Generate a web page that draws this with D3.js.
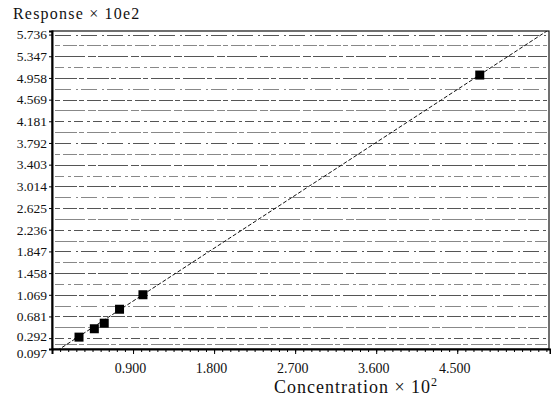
<!DOCTYPE html>
<html>
<head>
<meta charset="utf-8">
<script src="https://cdn.jsdelivr.net/npm/d3@7"></script>
<style>
  body { margin: 0; background: #fff; }
  svg { display: block; font-family: "Liberation Serif", "DejaVu Serif", serif; }
</style>
</head>
<body>
<svg width="551" height="405"></svg>
<script>
// calibration points
var concentration = [0.30, 0.47, 0.58, 0.75, 1.01, 4.75];
var response = [0.31, 0.46, 0.56, 0.81, 1.07, 5.01];
// fitted line: response = slope * concentration + intercept
var fitSlope = 1.054, fitIntercept = 0.007;

var xTicks = [0.9, 1.8, 2.7, 3.6, 4.5];
var yTicks = ["0.097", "0.292", "0.681", "1.069", "1.458", "1.847", "2.236", "2.625",
              "3.014", "3.403", "3.792", "4.181", "4.569", "4.958", "5.347", "5.736"];

var svg = d3.select("svg"),
    plotL = 52, plotR = 550, plotT = 31, plotB = 349,
    serif = "Liberation Serif, DejaVu Serif, serif";

var x = d3.scaleLinear().domain([0, 5.53]).range([plotL, plotR]);
var y = d3.scaleLinear().domain([0.097, 5.8]).range([plotB, plotT]);

svg.append("clipPath").attr("id", "plot")
  .append("rect").attr("x", plotL).attr("y", plotT)
    .attr("width", plotR - plotL).attr("height", plotB - plotT);

// gridlines at every labelled value and halfway between them
var yVals = yTicks.map(function(d) { return +d; });
var grid = [];
for (var i = 1; i < yVals.length; i++) {
  grid.push((yVals[i - 1] + yVals[i]) / 2);
  grid.push(yVals[i]);
}
var dashes = ["22,2,5,3", "9,4,3,3", "30,3,8,2", "5,3,14,2", "16,5,2,3"];
svg.append("g").selectAll("line")
  .data(grid)
  .enter().append("line")
    .attr("x1", plotL + 3).attr("x2", plotR - 3)
    .attr("y1", function(d) { return Math.round(y(d)) + 0.5; })
    .attr("y2", function(d) { return Math.round(y(d)) + 0.5; })
    .attr("stroke", function(d, i) { return i % 2 ? "#555" : "#888"; })
    .attr("stroke-width", 1)
    .attr("stroke-dasharray", function(d, i) { return dashes[i % dashes.length]; });

// frame
svg.append("rect")
  .attr("x", plotL).attr("y", plotT)
  .attr("width", plotR - plotL - 1).attr("height", plotB - plotT)
  .attr("fill", "none").attr("stroke", "#111").attr("stroke-width", 1.2);

// fit line
svg.append("line")
  .attr("clip-path", "url(#plot)")
  .attr("x1", x(0)).attr("y1", y(fitIntercept))
  .attr("x2", x(5.53)).attr("y2", y(fitSlope * 5.53 + fitIntercept))
  .attr("stroke", "#111").attr("stroke-width", 1)
  .attr("stroke-dasharray", "4,2");

// points
var pts = concentration.map(function(c, i) { return {c: c, r: response[i]}; });
svg.append("g").selectAll("rect")
  .data(pts)
  .enter().append("rect")
    .attr("x", function(d) { return x(d.c) - 4.5; })
    .attr("y", function(d) { return y(d.r) - 4.5; })
    .attr("width", 9).attr("height", 9)
    .attr("fill", "#000");

// x axis
var xAxis = d3.axisBottom(x)
    .tickValues(xTicks)
    .tickFormat(d3.format(".3f"))
    .tickSize(5).tickPadding(9);
var gx = svg.append("g").attr("transform", "translate(0," + plotB + ")").call(xAxis)
    .attr("font-family", serif);
gx.select(".domain").attr("stroke-width", 2).attr("stroke", "#000");
gx.selectAll("text").attr("font-size", 14).attr("dx", -3).attr("fill", "#111");

var minor = d3.range(0.09, 5.5, 0.09);
svg.append("g").attr("transform", "translate(0," + plotB + ")")
  .call(d3.axisBottom(x).tickValues(minor).tickSize(3).tickFormat(""))
  .select(".domain").remove();

// y axis
var yAxis = d3.axisLeft(y)
    .tickValues(yVals)
    .tickFormat(function(d, i) { return yTicks[i]; })
    .tickSize(3).tickPadding(2);
var gy = svg.append("g").attr("transform", "translate(" + plotL + ",0)").call(yAxis)
    .attr("font-family", serif);
gy.select(".domain").attr("stroke-width", 2).attr("stroke", "#000");
gy.selectAll("text").attr("font-size", 13.5).attr("fill", "#111");
// bottom label sits at the corner, nudge it clear of 0.292
gy.selectAll(".tick text").filter(function(d, i) { return i === 0; })
    .attr("y", 4);
gy.selectAll(".tick text").filter(function(d, i) { return i === 1; })
    .attr("y", -2);

// titles
svg.append("text")
  .attr("x", 13).attr("y", 19)
  .attr("font-size", 16).attr("letter-spacing", 1.2)
  .attr("fill", "#111")
  .text("Response × 10e2");

var xt = svg.append("text")
  .attr("x", 356).attr("y", 393)
  .attr("text-anchor", "middle")
  .attr("font-size", 18).attr("letter-spacing", 1)
  .attr("fill", "#111")
  .text("Concentration × 10");
xt.append("tspan").attr("dy", -7).attr("font-size", 12).text("2");
</script>
</body>
</html>
